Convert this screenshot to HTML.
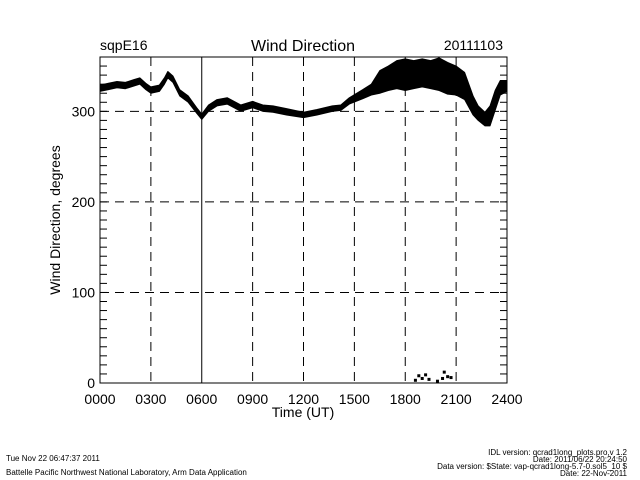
<!DOCTYPE html>
<html><head><meta charset="utf-8"><style>
body{margin:0;background:#fff;}
svg{display:block;font-family:"Liberation Sans",sans-serif;}
</style></head><body>
<svg id="chart" width="640" height="480" viewBox="0 0 640 480">
<rect width="640" height="480" fill="#fff"/>
<text x="100" y="50" font-size="14">sqpE16</text>
<text x="303" y="51" font-size="16" text-anchor="middle">Wind Direction</text>
<text x="503" y="50" font-size="14" text-anchor="end">20111103</text>
<g id="grid"></g><g id="data"></g><g id="axes"></g>
<text x="303" y="417" font-size="14" text-anchor="middle">Time (UT)</text>
<text transform="translate(60,220) rotate(-90)" font-size="14" text-anchor="middle">Wind Direction, degrees</text>
<text x="6" y="461" font-size="8">Tue Nov 22 06:47:37 2011</text>
<text x="6" y="475" font-size="8">Battelle Pacific Northwest National Laboratory, Arm Data Application</text>
<g font-size="8" text-anchor="end">
<text x="627" y="455">IDL version: qcrad1long_plots.pro,v 1.2</text>
<text x="627" y="462">Date: 2011/06/22 20:24:50</text>
<text x="627" y="469">Data version: $State: vap-qcrad1long-5.7-0.sol5_10 $</text>
<text x="627" y="476">Date: 22-Nov-2011</text>
</g>
</svg>
<script>
const hours=[0,0.5,1,1.5,2,2.35,2.7,3,3.5,3.8,4,4.3,4.7,5.2,5.7,6,6.4,6.9,7.5,8.3,9,9.6,10.2,11,12,12.8,13.7,14.2,14.7,15.5,16,16.5,17,17.5,18,18.5,19,19.5,20,20.5,21,21.5,22,22.3,22.7,23,23.3,23.6,24];
const upper=[329,331,333,332,335,337,331,327,329,337,344,339,324,317,304,297,307,313,315,307,311,307,306,303,299,302,306,307,315,324,330,345,350,356,358,356,358,356,359,354,350,343,317,306,299,306,323,334,334];
const lower=[322,324,326,325,328,330,324,320,322,330,337,332,317,310,298,291,300,306,308,300,304,300,299,296,293,296,300,301,308,314,318,320,323,325,323,325,327,325,323,319,318,313,296,290,284,284,301,318,322];
const lowTimes=[18.6,18.8,19.0,19.2,19.4,19.9,20.2,20.3,20.5,20.7];
const lowValues=[3,8,5,9,4,2,5,12,7,6];
const yTicks=[0,100,200,300];
const xTickLabels=["0000","0300","0600","0900","1200","1500","1800","2100","2400"];
const L=100,R=507,T=57,B=383;
const sx=h=>L+(R-L)*h/24, sy=d=>B-(B-T)*d/360;
const NS="http://www.w3.org/2000/svg";
function mk(tag,attrs,parent){const e=document.createElementNS(NS,tag);for(const k in attrs)e.setAttribute(k,attrs[k]);parent.appendChild(e);return e;}
const grid=document.getElementById('grid'),data=document.getElementById('data'),axes=document.getElementById('axes');
xTickLabels.forEach((lab,i)=>{const x=sx(i*3);
 if(i>0&&i<8){const ln=mk('line',{x1:x,x2:x,y1:T,y2:B,stroke:'#000','stroke-width':1,'stroke-dasharray':i==2?'none':'9,6'},grid);
  }
 const t=mk('text',{x:x,y:B+21,'font-size':14,'text-anchor':'middle'},axes);t.textContent=lab;
 });
yTicks.forEach(v=>{const y=sy(v);
 if(v>0){const ln=mk('line',{x1:L,x2:R,y1:y,y2:y,stroke:'#000','stroke-width':1,'stroke-dasharray':'9,6'},grid);
  }
 const t=mk('text',{x:L-5,y:y+5,'font-size':14,'text-anchor':'end'},axes);t.textContent=v;
 });
for(let v=10;v<360;v+=10){const y=sy(v);
 const a=mk('line',{x1:L,x2:L+7,y1:y,y2:y,stroke:'#000'},axes);
 const b=mk('line',{x1:R-7,x2:R,y1:y,y2:y,stroke:'#000'},axes);}
const frame=mk('rect',{x:L,y:T,width:R-L,height:B-T,fill:'none',stroke:'#000','stroke-width':1},axes);

let pts=hours.map((h,i)=>sx(h)+','+sy(upper[i]));
for(let i=hours.length-1;i>=0;i--)pts.push(sx(hours[i])+','+sy(lower[i]));
const band=mk('polygon',{points:pts.join(' '),fill:'#000',stroke:'#000','stroke-width':1,'stroke-linejoin':'round'},data);

lowTimes.forEach((h,i)=>{const r=mk('rect',{x:sx(h)-1.5,y:sy(lowValues[i])-1.5,width:3,height:3,fill:'#000'},data);
 });
</script>
</body></html>
